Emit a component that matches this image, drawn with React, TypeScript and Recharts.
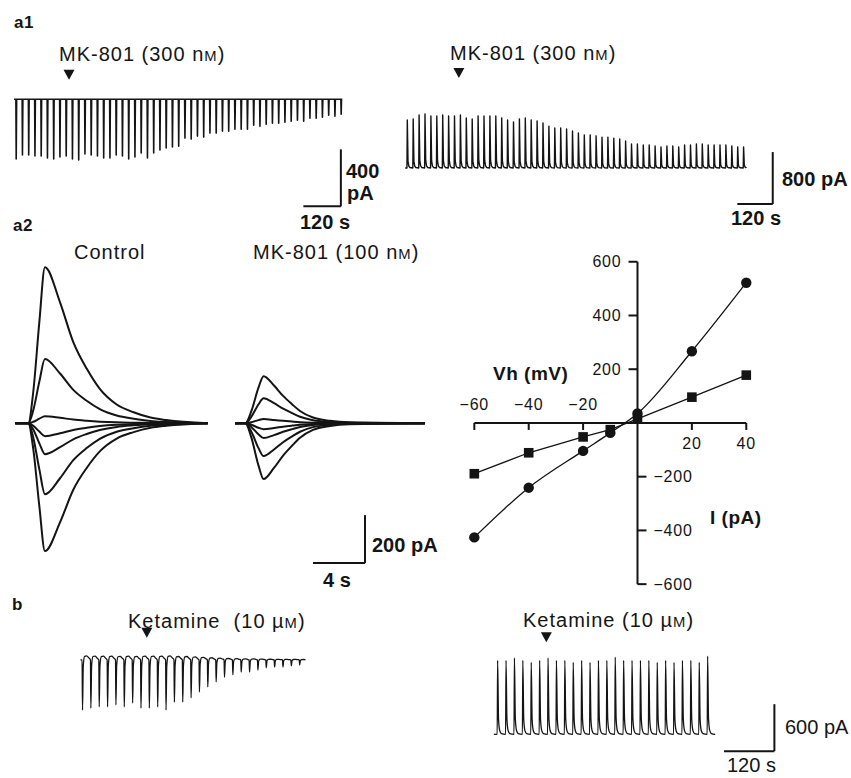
import type { ReactNode } from "react";
import { Line, LineChart, ReferenceDot, ReferenceLine, XAxis, YAxis } from "recharts";

const INK = "#141414";
const FONT = '"Liberation Sans", Arial, Helvetica, sans-serif';

// a1 — peak current of each NMDA pulse (pA), one pulse every 20 s
const A1_INTERVAL_S = 20;
const A1_LEFT_PEAKS = [
  -420, -392, -392, -399, -399, -413, -420, -406, -399, -420, -427, -385, -392, -399, -413, -413, -392, -399,
  -420, -406, -378, -413, -378, -357, -343, -336, -330, -273, -280, -259, -266, -238, -238, -224, -224, -210,
  -210, -210, -182, -189, -175, -168, -168, -161, -154, -147, -154, -133, -133, -126, -112, -119, -105,
];
const A1_RIGHT_PEAKS = [
  740, 755, 815, 830, 800, 800, 815, 800, 800, 815, 770, 755, 800, 800, 800, 800, 770, 740, 710, 755, 770, 740,
  725, 695, 645, 615, 615, 600, 570, 540, 510, 510, 495, 475, 475, 460, 445, 415, 370, 370, 355, 355, 340, 325,
  340, 340, 325, 355, 355, 370, 370, 355, 355, 355, 355, 340, 325, 325,
];
const A1_LEFT_DRUG_T = 170;
const A1_RIGHT_DRUG_T = 176;

// a2 — current traces at each holding potential (peak, pA)
const A2_CONTROL_PEAKS = [650, 267, 29, -54, -129, -296, -533];
const A2_MK_PEAKS = [196, 104, 17, -25, -62, -137, -233];
const A2_MK_ONSET_S = 16.7;
const CONTROL_WAVE_T = [-1.0, 0, 0.38, 0.85, 1.28, 2.44, 3.46, 4.49, 5.5, 6.8, 8.1, 9.4, 10.6, 13.8];
const CONTROL_WAVE_F = [0, 0, 0.2, 0.65, 1, 0.775, 0.52, 0.35, 0.22, 0.12, 0.07, 0.036, 0.02, 0];
const MK_WAVE_T = [-0.8, 0, 0.45, 1.0, 1.4, 2.2, 2.9, 3.6, 4.2, 5.2, 6.5, 8.0, 13.8];
const MK_WAVE_F = [0, 0, 0.25, 0.75, 1, 0.8, 0.58, 0.4, 0.26, 0.12, 0.05, 0.018, 0];

// a2 — I–V relation
const VH_MV = [-60, -40, -20, -10, 0, 20, 40];
const I_CONTROL = [-426, -241, -104, -37, 35, 267, 522];
const I_MK801 = [-189, -111, -52, -25, 15, 96, 178];
const VH_TICKS = [-60, -40, -20, 20, 40];
const I_TICKS = [600, 400, 200, -200, -400, -600];

// b — ketamine 10 µM
const B_INTERVAL_S = 20;
const B_LEFT_PEAKS = [
  -640, -615, -600, -600, -575, -600, -550, -615, -615, -600, -640, -540, -540, -485, -410, -345, -280, -220,
  -190, -155, -155, -130, -100, -90, -90, -75, -65,
];
const B_RIGHT_PEAKS = [
  945, 945, 975, 945, 920, 945, 975, 945, 945, 920, 945, 920, 945, 945, 985, 945, 945, 945, 945, 920, 945, 920,
  945, 945, 920, 1000,
];
const B_LEFT_DRUG_T = 155;
const B_RIGHT_DRUG_T = 117;

// pulse shapes: [fraction of interval, fraction of peak]
const PULSE_NARROW = [[0, 0], [0.05, 1], [0.12, 0]];
const PULSE_DECAY = [[0, 0], [0.06, 1], [0.18, 0.14], [0.32, 0.04], [0.5, 0.01]];
const PULSE_ARC = [[0, 0], [0.05, 1], [0.14, 0.12], [0.3, -0.07], [0.55, -0.08], [0.8, -0.04]];
const PULSE_CURL = [[0, 0], [0.05, 1], [0.16, 0.2], [0.3, 0.05], [0.5, 0.01]];

type Pt = { t: number; v: number };

function buildTrain(peaks: number[], interval: number, shape: number[][], from: number, to: number): Pt[] {
  const pts: Pt[] = [{ t: from, v: 0 }];
  peaks.forEach((peak, i) => {
    for (const [f, a] of shape) pts.push({ t: (i + f) * interval, v: a * peak });
  });
  pts.push({ t: to, v: 0 });
  return pts;
}

const a1Left = buildTrain(A1_LEFT_PEAKS, A1_INTERVAL_S, PULSE_NARROW, -6, 1045);
const a1Right = buildTrain(A1_RIGHT_PEAKS, A1_INTERVAL_S, PULSE_DECAY, -6, 1150);
const bLeft = buildTrain(B_LEFT_PEAKS, B_INTERVAL_S, PULSE_ARC, -4, 533);
const bRight = buildTrain(B_RIGHT_PEAKS, B_INTERVAL_S, PULSE_CURL, -8, 519);

const controlTraces = A2_CONTROL_PEAKS.map((peak) =>
  CONTROL_WAVE_T.map((t, i) => ({ t, v: peak * CONTROL_WAVE_F[i] })),
);
const mkTraces = A2_MK_PEAKS.map((peak) =>
  MK_WAVE_T.map((t, i) => ({ t: t + A2_MK_ONSET_S, v: peak * MK_WAVE_F[i] })),
);
const ivControl = VH_MV.map((t, i) => ({ t, v: I_CONTROL[i] }));
const ivMk = VH_MV.map((t, i) => ({ t, v: I_MK801[i] }));

function Panel({ box, x, y, children }: { box: number[]; x: number[]; y: number[]; children: ReactNode }) {
  const [left, top, width, height] = box;
  return (
    <div style={{ position: "absolute", left, top }}>
      <LineChart width={width} height={height} margin={{ top: 0, right: 0, bottom: 0, left: 0 }}>
        <XAxis type="number" dataKey="t" domain={x} hide allowDataOverflow />
        <YAxis type="number" dataKey="v" domain={y} hide allowDataOverflow />
        {children}
      </LineChart>
    </div>
  );
}

function trace(data: Pt[], key: string, width = 1.3, type: "linear" | "monotone" = "linear") {
  return (
    <Line
      key={key}
      data={data}
      dataKey="v"
      type={type}
      stroke={INK}
      strokeWidth={width}
      strokeLinejoin="round"
      dot={false}
      activeDot={false}
      isAnimationActive={false}
    />
  );
}

function scaleBar(tFrom: number, tTo: number, vFrom: number, vTo: number) {
  return [
    <ReferenceLine key="sv" segment={[{ x: tTo, y: vFrom }, { x: tTo, y: vTo }]} stroke={INK} strokeWidth={2} />,
    <ReferenceLine key="sh" segment={[{ x: tFrom, y: vFrom }, { x: tTo, y: vFrom }]} stroke={INK} strokeWidth={2} />,
  ];
}

const arrow = (p: any) => (
  <path d={`M${p.cx - 5.5},${p.cy - 5} L${p.cx + 5.5},${p.cy - 5} L${p.cx},${p.cy + 5} Z`} fill={INK} />
);
const circleDot = (p: any) => <circle key={`c${p.index}`} cx={p.cx} cy={p.cy} r={5.2} fill={INK} />;
const squareDot = (p: any) => (
  <rect key={`s${p.index}`} x={p.cx - 4.8} y={p.cy - 4.8} width={9.6} height={9.6} fill={INK} />
);

function Txt({ x, y, size = 20, bold = false, spacing = 1, children }: {
  x: number; y: number; size?: number; bold?: boolean; spacing?: number; children: ReactNode;
}) {
  return (
    <div
      style={{
        position: "absolute",
        left: x,
        top: y - size * 0.49,
        fontSize: size,
        lineHeight: `${size}px`,
        fontWeight: bold ? 700 : 400,
        letterSpacing: spacing,
        whiteSpace: "pre",
        color: INK,
      }}
    >
      {children}
    </div>
  );
}

const SmallM = () => <span style={{ fontSize: "0.74em" }}>M</span>;

const tickLabel = { fill: INK, fontSize: 16, fontFamily: FONT, letterSpacing: 0.8 };

export default function App() {
  return (
    <div style={{ position: "absolute", left: 0, top: 0, width: 851, height: 778, background: "#fff", fontFamily: FONT }}>
      <Txt x={14} y={22} size={17} bold spacing={0.5}>a1</Txt>
      <Txt x={59} y={54}>MK-801 (300 n<SmallM />)</Txt>
      <Txt x={450} y={53}>MK-801 (300 n<SmallM />)</Txt>

      <Panel box={[13.8, 65.3, 328.75, 148.2]} x={[-6, 1046]} y={[-800, 240]}>
        {trace(a1Left, "a1l", 1.6)}
        <ReferenceDot x={A1_LEFT_DRUG_T} y={172} shape={arrow} />
        {scaleBar(920, 1040, -752, -352)}
      </Panel>
      <Txt x={346} y={171} bold spacing={0}>400</Txt>
      <Txt x={347} y={193} bold spacing={0}>pA</Txt>
      <Txt x={300} y={222} bold spacing={0}>120 s</Txt>

      <Panel box={[404.35, 64, 371.7, 143]} x={[-10, 1250]} y={[-600, 1600]}>
        {trace(a1Right, "a1r", 1.4)}
        <ReferenceDot x={A1_RIGHT_DRUG_T} y={1460} shape={arrow} />
        {scaleBar(1120, 1240, -555, 245)}
      </Panel>
      <Txt x={782} y={179} bold spacing={0}>800 pA</Txt>
      <Txt x={731} y={218} bold spacing={0}>120 s</Txt>

      <Txt x={13} y={225} size={17} bold spacing={0.5}>a2</Txt>
      <Txt x={74} y={252}>Control</Txt>
      <Txt x={253} y={252}>MK-801 (100 n<SmallM />)</Txt>

      <Panel box={[14, 259.8, 417.3, 307.2]} x={[-1.1, 31]} y={[-600, 680]}>
        {controlTraces.map((d, i) => trace(d, `c${i}`, 2, "monotone"))}
        {mkTraces.map((d, i) => trace(d, `m${i}`, 2, "monotone"))}
        {scaleBar(21.9, 25.9, -583, -383)}
      </Panel>
      <Txt x={372} y={545} bold spacing={0}>200 pA</Txt>
      <Txt x={323} y={580} bold spacing={0}>4 s</Txt>

      <Panel box={[458.2, 250.7, 304.6, 343.9]} x={[-66, 46]} y={[-640, 640]}>
        <ReferenceLine segment={[{ x: -60, y: 0 }, { x: 40, y: 0 }]} stroke={INK} strokeWidth={2} />
        <ReferenceLine segment={[{ x: 0, y: -600 }, { x: 0, y: 600 }]} stroke={INK} strokeWidth={2} />
        {VH_TICKS.map((v) => (
          <ReferenceLine key={`vt${v}`} segment={[{ x: v, y: 0 }, { x: v, y: -26 }]} stroke={INK} strokeWidth={2} />
        ))}
        {I_TICKS.map((i) => (
          <ReferenceLine
            key={`it${i}`}
            segment={[{ x: 0, y: i }, { x: i > 0 ? -3.3 : 3.3, y: i }]}
            stroke={INK}
            strokeWidth={2}
          />
        ))}
        {VH_TICKS.map((v) => (
          <ReferenceDot
            key={`vl${v}`}
            x={v}
            y={0}
            r={0}
            fill="none"
            stroke="none"
            label={{ ...tickLabel, value: v < 0 ? `\u2212${-v}` : `${v}`, position: v < 0 ? "top" : "bottom", offset: v < 0 ? 13 : 15 }}
          />
        ))}
        {I_TICKS.map((i) => (
          <ReferenceDot
            key={`il${i}`}
            x={0}
            y={i}
            r={0}
            fill="none"
            stroke="none"
            label={{ ...tickLabel, value: i < 0 ? `\u2212${-i}` : `${i}`, position: i > 0 ? "left" : "right", offset: 16 }}
          />
        ))}
        <Line data={ivMk} dataKey="v" type="linear" stroke={INK} strokeWidth={1.3} dot={squareDot} activeDot={false} isAnimationActive={false} />
        <Line data={ivControl} dataKey="v" type="monotone" stroke={INK} strokeWidth={1.3} dot={circleDot} activeDot={false} isAnimationActive={false} />
      </Panel>
      <Txt x={493} y={373} size={19} bold spacing={0.5}>Vh (mV)</Txt>
      <Txt x={710} y={517} size={19} bold spacing={0.5}>I (pA)</Txt>

      <Txt x={12} y={604} size={17} bold spacing={0.5}>b</Txt>
      <Txt x={128} y={621}>Ketamine  (10 µ<SmallM />)</Txt>
      <Txt x={523} y={620}>Ketamine (10 µ<SmallM />)</Txt>

      <Panel box={[80.2, 627.1, 225.5, 89.3]} x={[-5, 535]} y={[-720, 420]}>
        {trace(bLeft, "bl", 1.3, "monotone")}
        <ReferenceDot x={B_LEFT_DRUG_T} y={345} shape={arrow} />
      </Panel>

      <Panel box={[492.8, 630.6, 285.6, 122.1]} x={[-10, 670]} y={[-240, 1320]}>
        {trace(bRight, "br", 1.3, "monotone")}
        <ReferenceDot x={B_RIGHT_DRUG_T} y={1240} shape={arrow} />
        {scaleBar(540, 660, -215, 385)}
      </Panel>
      <Txt x={785} y={727} spacing={0}>600 pA</Txt>
      <Txt x={727} y={765} spacing={0}>120 s</Txt>
    </div>
  );
}
